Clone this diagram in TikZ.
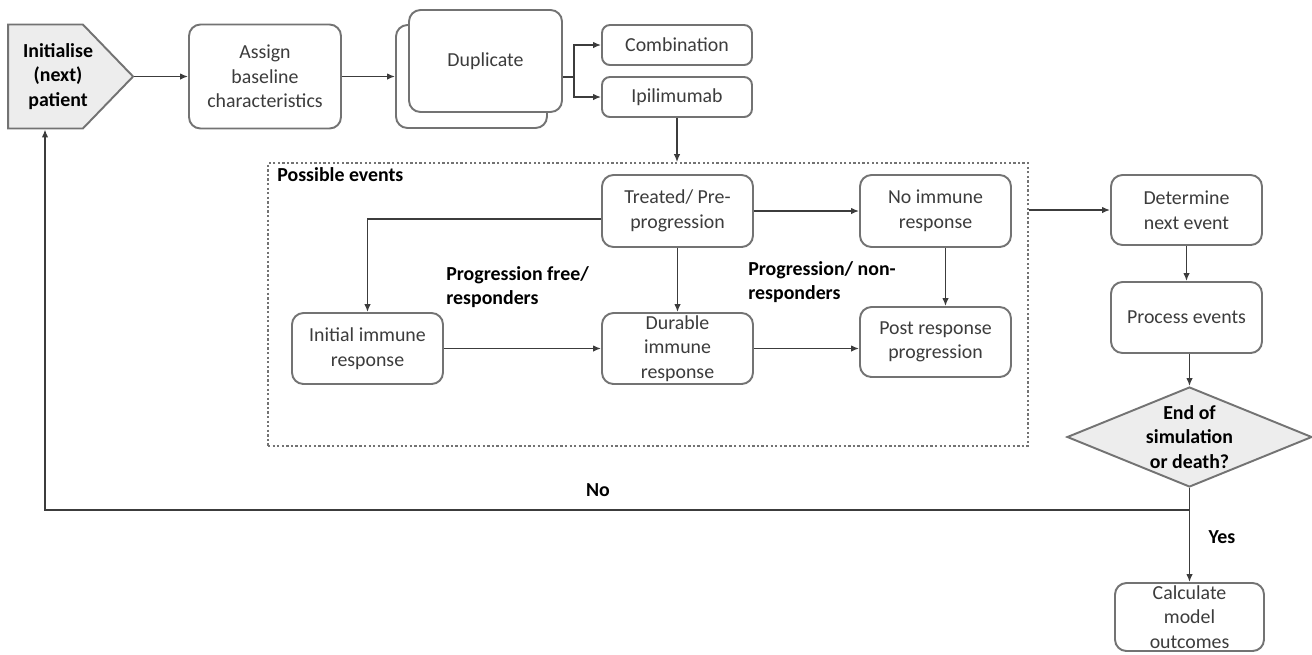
\documentclass[tikz,border=0pt]{standalone}
\usepackage{fontspec}
\setmainfont{Carlito}
\usepackage{tikz}
\usetikzlibrary{arrows.meta,positioning,shapes.geometric,shapes.symbols}
\definecolor{edge}{HTML}{737373}
\definecolor{ink}{HTML}{3C3C3C}
\definecolor{shade}{HTML}{EDEDED}
\newcommand{\lbl}{\fontsize{11.3}{14}\selectfont}
\tikzset{
  stage/.style={rectangle, rounded corners=#1, draw=edge, line width=1.1pt, fill=white,
               align=center, font=\lbl, text=ink, inner sep=0pt},
  stage/.default=6.5pt,
  dims/.style 2 args={minimum width=#1cm, minimum height=#2cm},
  startbox/.style={signal, signal to=east, signal pointer angle=92, draw=edge, line width=1.1pt,
               fill=shade, inner sep=0pt},
  decide/.style={diamond, aspect=2.45, draw=edge, line width=1.1pt, fill=shade,
               align=center, font=\lbl\bfseries, text=black, inner sep=0pt},
  evbox/.style={rectangle, draw=edge, line width=1pt, dash pattern=on 1.3pt off 1.3pt},
  tag/.style={font=\lbl\bfseries, text=black, align=left, inner sep=0pt},
  arr/.style={-{Latex[length=1.6mm,width=1.3mm]}, line width=0.8pt, draw=ink},
  wire/.style={line width=0.8pt, draw=ink},
}
\begin{document}
\begin{tikzpicture}[x=0.02cm, y=-0.02cm]
  \useasboundingbox (0,0) rectangle (1312,654);
  % top row
  \node[startbox, dims={2.5}{2.08}] (init) at (45.5,76.5) {};
  \node[tag, align=center] (inittxt) at (58,76.5) {Initialise\\(next)\\patient};
  \node[stage, dims={3.04}{2.08}] (assign) at (265,76.5) {Assign\\baseline\\characteristics};
  \node[stage, dims={3.02}{2.06}] (dupback) at (471.5,76.5) {};
  \node[stage, dims={3.06}{2.04}] (dup) at (485.5,61) {Duplicate};
  \node[stage=4.5pt, dims={3.0}{0.8}] (comb) at (677,45) {Combination};
  \node[stage=4.5pt, dims={3.0}{0.8}] (ipi) at (677,97) {Ipilimumab};
  \coordinate (fork) at (574,77);
  \draw[arr](init.east)--(assign.west);
  \draw[arr](assign.east)--(dupback.west);
  \draw[wire](dup.east |- fork)--(fork);
  \draw[arr](fork)|-(comb.west); \draw[arr](fork)|-(ipi.west);
  % possible events
  \node[evbox, dims={15.2}{5.66}] (events) at (648,304.5) {};
  \node[tag, anchor=base west] (evtitle) at (277,181) {Possible events};
  \node[stage, dims={3.02}{1.44}] (treat) at (677.5,211) {Treated/ Pre-\\progression};
  \node[stage, dims={3.02}{1.42}] (initial) at (367.5,348.5) {Initial immune\\response};
  \node[stage, dims={3.02}{1.42}] (durable) at (677.5,348.5) {Durable\\immune\\response};
  \node[stage, dims={3.02}{1.44}] (noresp) at (935.5,211) {No immune\\response};
  \node[stage, dims={3.02}{1.40}] (post) at (935.5,342) {Post response\\progression};
  \node[tag, anchor=west] (pfree) at (446,287) {Progression free/\\responders};
  \node[tag, anchor=west] (pnon) at (748,282) {Progression/ non-\\responders};
  \draw[arr](ipi.south)--(ipi.south |- events.north);
  \draw[arr]([yshift=-0.16cm]treat.west)-|(initial.north);
  \draw[arr](treat.south)--(durable.north);
  \draw[arr](treat.east)--(noresp.west);
  \draw[arr](initial.east)--(durable.west);
  \draw[arr](durable.east)--(durable.east -| post.west);
  \draw[arr]([xshift=0.2cm]noresp.south)--([xshift=0.2cm]post.north);
  % right column
  \node[stage, dims={3.02}{1.40}] (det) at (1186.5,210) {Determine\\next event};
  \node[stage, dims={3.02}{1.42}] (proc) at (1186.5,317.5) {Process events};
  \node[decide, dims={4.9}{2.0}] (dec) at (1189.5,437) {End of\\simulation\\or death?};
  \node[stage, dims={2.98}{1.36}] (calc) at (1189.5,617) {Calculate\\model\\outcomes};
  \draw[arr](events.east |- det.west)--(det.west);
  \draw[arr](det.south)--(proc.north);
  \draw[arr](dec.north |- proc.south)--(dec.north);
  \draw[arr](dec.south)--(calc.north);
  \coordinate (back) at (45,510);
  \draw[arr](dec.south)|-(back)--(init.south -| back);
  \node[tag] (no) at (598,490) {No};
  \node[tag] (yes) at (1222,537) {Yes};
\end{tikzpicture}
\end{document}
